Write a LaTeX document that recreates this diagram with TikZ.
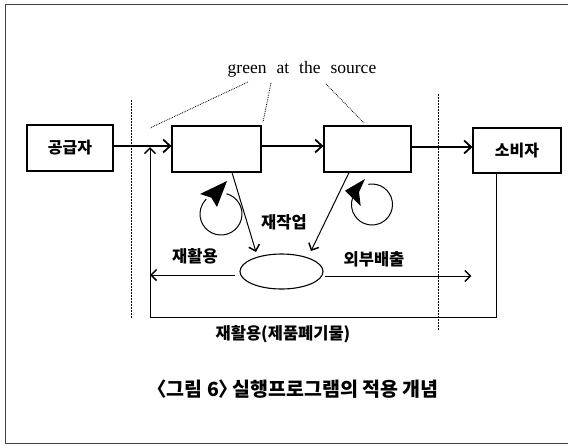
\documentclass[tikz,border=0pt]{standalone}
\usepackage{fontspec}
\setmainfont{Liberation Serif}
\newfontfamily\kr{Noto Sans CJK KR}
\usetikzlibrary{arrows.meta,shapes.geometric}
\begin{document}
\begin{tikzpicture}[x=1pt,y=-1pt,
  frame/.style={line width=1pt,draw=black!75},
  box/.style={draw,line width=1.1pt,inner sep=0pt,font=\kr\bfseries\fontsize{16}{16}\selectfont},
  arr/.style={line width=1.3pt,-{Straight Barb[length=7pt,width=13pt,line width=1.8pt]}},
  thinarr/.style={line width=1pt,-{Straight Barb[length=5.5pt,width=11pt,line width=1.5pt]}},
  border/.style={dash pattern=on 2pt off 1pt,line width=0.9pt},
  callout/.style={densely dotted,line width=0.8pt},
  lbl/.style={font=\kr\bfseries\fontsize{16.5}{16.5}\selectfont,inner sep=0pt},
  loopline/.style={line width=1pt}]
\useasboundingbox (0,0) rectangle (568,445);
\draw[frame] (575,4) -- (5,4) -- (5,443) -- (575,443);

% boxes
\node[box,minimum width=86pt,minimum height=46pt] (sup) at (70,148) {공급자};
\node[box,minimum width=89pt,minimum height=46pt] (b1) at (216.5,149) {};
\node[box,minimum width=87pt,minimum height=46pt] (b2) at (367.5,149) {};
\node[box,minimum width=88pt,minimum height=45pt] (cons) at (517,150.5) {소비자};
\node[draw,line width=1.1pt,ellipse,minimum width=83pt,minimum height=35pt,inner sep=0pt] (ell) at (281.5,271.5) {};

% boundary dashed lines
\coordinate (dl1) at (131,100); \coordinate (dl2) at (131,318);
\coordinate (dr1) at (438,94);  \coordinate (dr2) at (438,330);
\draw[border] (dl1) -- (dl2);
\draw[border] (dr1) -- (dr2);

% main flow
\draw[arr] (sup.east |- 0,146) -- (b1.west |- 0,146);
\draw[arr] (b1.east |- 0,146) -- (b2.west |- 0,146);
\draw[arr] (b2.east |- 0,147) -- (cons.west |- 0,147);

% feedback loop
\coordinate (fbTop) at (496,173);
\coordinate (fbA) at (496,317);
\coordinate (fbB) at (150,317);
\coordinate (fbTip) at (150,147);
\draw[thinarr] (fbTop) -- (fbA) -- (fbB) -- (fbTip);

% rework arrows to ellipse
\coordinate (t1) at (256,252);
\coordinate (t2) at (311,251);
\draw[thinarr] ([xshift=15.5pt]b1.south) -- (t1);
\draw[thinarr] ([xshift=-18.5pt]b2.south) -- (t2);

% recycle / discharge arrows
\coordinate (lA) at (235,275);
\coordinate (rA) at (325,276);
\draw[thinarr] (lA) -- (lA -| fbB);
\draw[thinarr] (rA) -- ([xshift=-1pt]rA -| cons.west);

% self loops
\draw[loopline] (221,214) ++(-75:21) arc[start angle=-75,end angle=225,radius=21];
\fill (227,181) -- (200,194) -- (211.3,197.6) -- (217,207) -- cycle;
\draw[loopline] (372,204.5) ++(-100:20.5) arc[start angle=-100,end angle=210,radius=20.5];
\fill (345,190.7) -- (365,179) -- (359,192.1) -- (360.7,206) -- cycle;

% labels
\node[inner sep=0pt,font=\fontsize{17.5}{17.5}\selectfont] (gs) at (302,69) {green\hskip10pt at\hskip10pt the\hskip10pt source};
\coordinate (c1a) at (248,82); \coordinate (c1b) at (150,128);
\coordinate (c2a) at (271,83); \coordinate (c2b) at (263,122);
\coordinate (c3a) at (326,84); \coordinate (c3b) at (364,123);
\draw[callout] (c1a) -- (c1b);
\draw[callout] (c2a) -- (c2b);
\draw[callout] (c3a) -- (c3b);

\node[lbl] (rw) at (284,222) {재작업};
\node[lbl] (rc) at (195,256) {재활용};
\node[lbl] (ex) at (374,259) {외부배출};
\node[lbl] (rcw) at (283,334) {재활용(제품폐기물)};
\node[inner sep=0pt,font=\kr\bfseries\fontsize{19.5}{19.5}\selectfont] (cap) at (293,389) {〈그림 6〉\kern-0.3em 실행프로그램의 적용 개념};
\end{tikzpicture}
\end{document}
